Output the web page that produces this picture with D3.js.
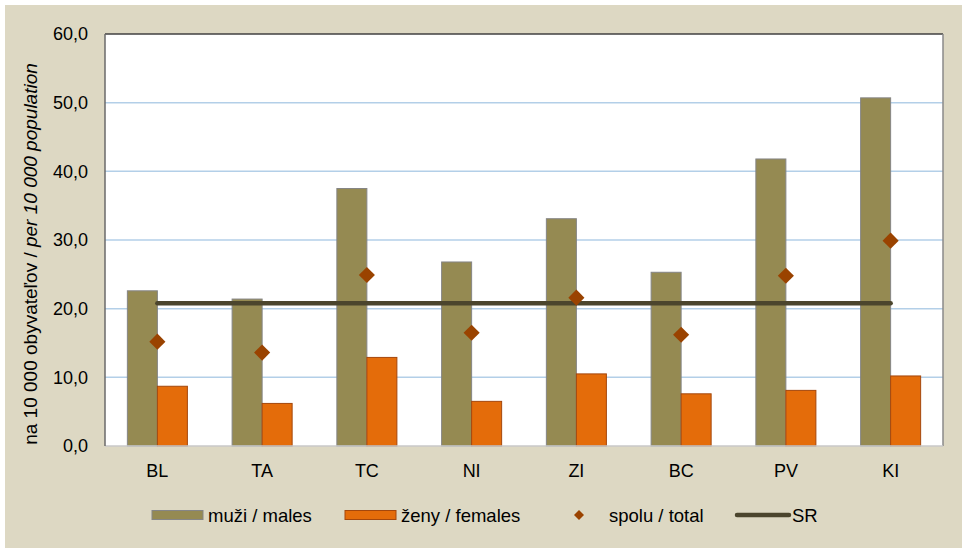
<!DOCTYPE html>
<html lang="sk">
<head>
<meta charset="UTF-8">
<title>Chart</title>
<style>
    body{
        margin: 0;
        background-color: #fff;
    }
    svg{
        display: block;
    }
    .axis text{
        font-family: "Liberation Sans", Arial, sans-serif;
        font-size: 18px;
        fill: #000;
    }
</style>
</head>
<body>
<div id="chart"></div>
<script src="https://cdn.jsdelivr.net/npm/d3@7"></script>
<script>
    // data
    var categories = ['BL', 'TA', 'TC', 'NI', 'ZI', 'BC', 'PV', 'KI'];
    var males   = [22.6, 21.4, 37.5, 26.8, 33.1, 25.3, 41.8, 50.7];
    var females = [8.7, 6.2, 12.9, 6.5, 10.5, 7.6, 8.1, 10.2];
    var totals  = [15.2, 13.6, 24.9, 16.5, 21.6, 16.2, 24.8, 29.9];
    var srValue = 20.8;
    var yTicks  = [0, 10, 20, 30, 40, 50, 60];

    var width = 962, height = 548;
    var plot = {left: 105, top: 34, right: 943, bottom: 446};

    var svg = d3.select('#chart')
        .append('svg')
        .attr('width', width)
        .attr('height', height);

    // beige background
    svg.append('rect')
        .attr('x', 5).attr('y', 5)
        .attr('width', width - 5).attr('height', height - 5)
        .attr('fill', '#ddd8c3');

    svg.append('rect')
        .attr('x', plot.left).attr('y', plot.top)
        .attr('width', plot.right - plot.left)
        .attr('height', plot.bottom - plot.top)
        .attr('fill', '#fff');

    var yScale = d3.scaleLinear()
        .domain([0, 60])
        .range([plot.bottom, plot.top]);

    var xScale = d3.scaleBand()
        .domain(categories)
        .range([plot.left, plot.right])
        .paddingInner(0.427)
        .paddingOuter(0.2135);

    var xInner = d3.scaleBand()
        .domain(['m', 'f'])
        .range([0, xScale.bandwidth()]);

    // gridlines
    svg.append('g')
        .selectAll('line')
        .data(yTicks.slice(1, -1))
        .enter()
        .append('line')
        .attr('x1', plot.left).attr('x2', plot.right)
        .attr('y1', function(d){ return yScale(d); })
        .attr('y2', function(d){ return yScale(d); })
        .attr('stroke', '#b3cfe8')
        .attr('stroke-width', 1.5);

    // male bars
    svg.selectAll('.male')
        .data(males)
        .enter()
        .append('rect')
        .attr('class', 'male')
        .attr('x', function(d, i){ return xScale(categories[i]) + xInner('m'); })
        .attr('y', function(d){ return yScale(d); })
        .attr('width', xInner.bandwidth())
        .attr('height', function(d){ return yScale(0) - yScale(d); })
        .attr('fill', '#958a52')
        .attr('stroke', '#858585')
        .attr('stroke-width', 1);

    // female bars
    svg.selectAll('.female')
        .data(females)
        .enter()
        .append('rect')
        .attr('class', 'female')
        .attr('x', function(d, i){ return xScale(categories[i]) + xInner('f'); })
        .attr('y', function(d){ return yScale(d); })
        .attr('width', xInner.bandwidth())
        .attr('height', function(d){ return yScale(0) - yScale(d); })
        .attr('fill', '#e46c0a')
        .attr('stroke', '#a4470c')
        .attr('stroke-width', 1);

    // SR line
    svg.append('line')
        .attr('x1', xScale(categories[0]) + xScale.bandwidth() / 2)
        .attr('x2', xScale(categories[categories.length - 1]) + xScale.bandwidth() / 2)
        .attr('y1', yScale(srValue))
        .attr('y2', yScale(srValue))
        .attr('stroke', '#4b452d')
        .attr('stroke-width', 4.5)
        .attr('stroke-linecap', 'round');

    // total diamonds
    var diamond = d3.symbol().type(d3.symbolSquare).size(130);
    svg.selectAll('.total')
        .data(totals)
        .enter()
        .append('path')
        .attr('class', 'total')
        .attr('d', diamond)
        .attr('transform', function(d, i){
            return 'translate(' + (xScale(categories[i]) + xScale.bandwidth() / 2) + ',' + yScale(d) + ') rotate(45)';
        })
        .attr('fill', '#9a4300');

    // plot borders
    svg.append('line')
        .attr('x1', plot.left).attr('x2', plot.right)
        .attr('y1', plot.top).attr('y2', plot.top)
        .attr('stroke', '#404040').attr('stroke-width', 1.5);
    svg.append('line')
        .attr('x1', plot.right).attr('x2', plot.right)
        .attr('y1', plot.top).attr('y2', plot.bottom)
        .attr('stroke', '#8a8a8a').attr('stroke-width', 1.5);
    svg.append('line')
        .attr('x1', plot.left).attr('x2', plot.right)
        .attr('y1', plot.bottom).attr('y2', plot.bottom)
        .attr('stroke', '#c8c8c8').attr('stroke-width', 1.5);
    svg.append('line')
        .attr('x1', plot.left).attr('x2', plot.left)
        .attr('y1', plot.top).attr('y2', plot.bottom)
        .attr('stroke', '#6a6a6a').attr('stroke-width', 1.5);

    // y axis
    var yAxis = d3.axisLeft(yScale)
        .tickValues(yTicks)
        .tickSize(0)
        .tickPadding(17)
        .tickFormat(function(d){ return d3.format('.1f')(d).replace('.', ','); });

    svg.append('g')
        .attr('class', 'axis')
        .attr('transform', 'translate(' + plot.left + ',0)')
        .call(yAxis)
        .call(function(g){ g.select('.domain').remove(); });

    // x axis
    var xAxis = d3.axisBottom(xScale).tickSize(0).tickPadding(18);
    svg.append('g')
        .attr('class', 'axis')
        .attr('transform', 'translate(0,' + plot.bottom + ')')
        .call(xAxis)
        .call(function(g){ g.select('.domain').remove(); });

    // y title
    var yTitle = svg.append('text')
        .attr('transform', 'translate(37,' + 254 + ') rotate(-90)')
        .attr('text-anchor', 'middle')
        .attr('font-family', '"Liberation Sans", Arial, sans-serif')
        .attr('font-size', '19px')
        .attr('fill', '#000');
    yTitle.append('tspan').text('na 10 000 obyvateľov / ');
    yTitle.append('tspan').attr('font-style', 'italic').text('per 10 000 population');

    // legend
    var legend = svg.append('g')
        .attr('font-family', '"Liberation Sans", Arial, sans-serif')
        .attr('font-size', '18.5px')
        .attr('fill', '#000');
    var ly = 515;

    legend.append('rect')
        .attr('x', 152).attr('y', ly - 4.5).attr('width', 51).attr('height', 9)
        .attr('fill', '#958a52').attr('stroke', '#858585');
    legend.append('text').attr('x', 208).attr('y', ly + 6.5).text('muži / males');

    legend.append('rect')
        .attr('x', 345).attr('y', ly - 4.5).attr('width', 51).attr('height', 9)
        .attr('fill', '#e46c0a').attr('stroke', '#a4470c');
    legend.append('text').attr('x', 401).attr('y', ly + 6.5).text('ženy / females');

    legend.append('path')
        .attr('d', d3.symbol().type(d3.symbolSquare).size(50))
        .attr('transform', 'translate(579,' + ly + ') rotate(45)')
        .attr('fill', '#9a4300');
    legend.append('text').attr('x', 609).attr('y', ly + 6.5).text('spolu / total');

    legend.append('line')
        .attr('x1', 737).attr('x2', 789).attr('y1', ly).attr('y2', ly)
        .attr('stroke', '#4b452d').attr('stroke-width', 4.5)
        .attr('stroke-linecap', 'round');
    legend.append('text').attr('x', 792).attr('y', ly + 6.5).text('SR');
</script>
</body>
</html>
